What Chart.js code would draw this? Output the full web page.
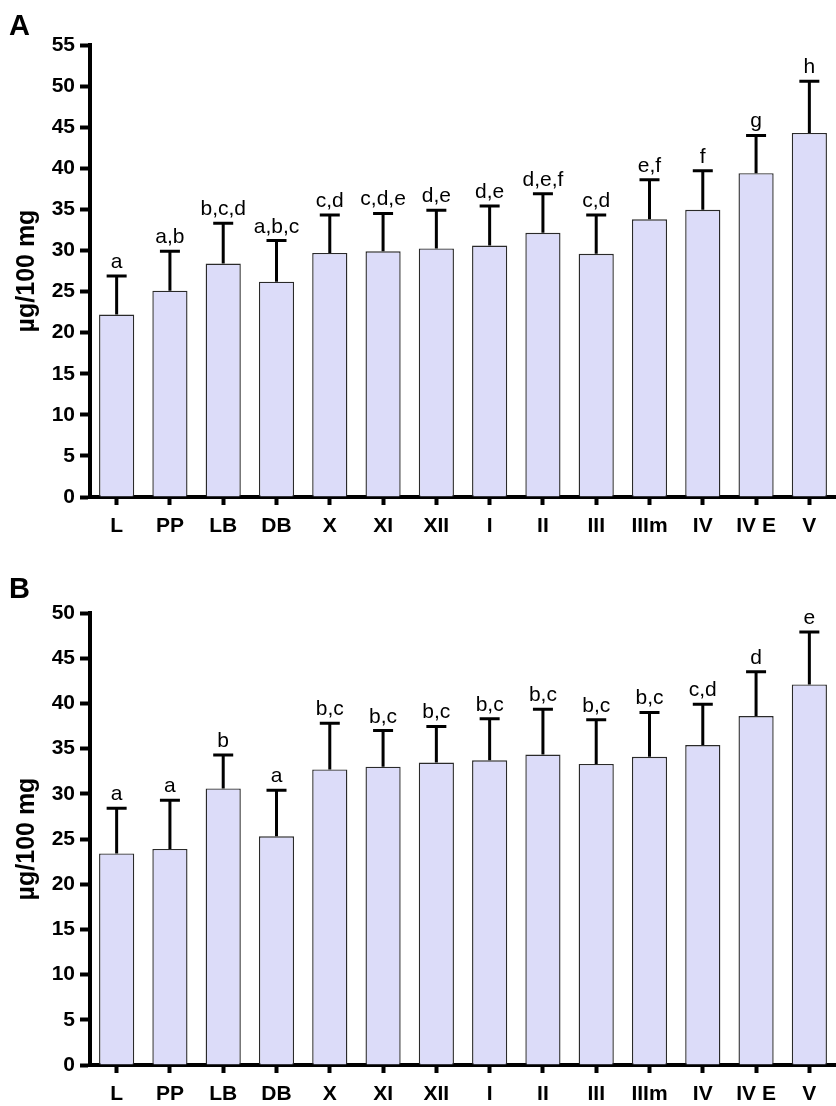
<!DOCTYPE html>
<html>
<head>
<meta charset="utf-8">
<script src="https://cdn.jsdelivr.net/npm/chart.js@4.4.1/dist/chart.umd.min.js"></script>
<style>
  html, body { margin: 0; padding: 0; background: #fff; }
  canvas { display: block; }
</style>
</head>
<body>
<canvas id="chartA" width="836" height="555"></canvas>
<canvas id="chartB" width="836" height="551"></canvas>
<script>
// --- Data ---
const stages = ['L', 'PP', 'LB', 'DB', 'X', 'XI', 'XII', 'I', 'II', 'III', 'IIIm', 'IV', 'IV E', 'V'];

// panel A
const meanA = [22.2, 25.1, 28.4, 26.2, 29.7, 29.9, 30.25, 30.6, 32.15, 29.6, 33.8, 34.95, 39.4, 44.3];
const sdA = [4.7, 4.8, 4.9, 5.0, 4.6, 4.6, 4.65, 4.8, 4.75, 4.7, 4.8, 4.75, 4.6, 6.3];
const lettersA = ['a', 'a,b', 'b,c,d', 'a,b,c', 'c,d', 'c,d,e', 'd,e', 'd,e', 'd,e,f', 'c,d', 'e,f', 'f', 'g', 'h'];

// panel B
const meanB = [23.4, 23.9, 30.6, 25.3, 32.7, 33.0, 33.45, 33.7, 34.35, 33.3, 34.1, 35.4, 38.6, 42.1];
const sdB = [5.0, 5.4, 3.7, 5.1, 5.1, 4.0, 4.0, 4.6, 5.0, 4.9, 4.9, 4.5, 4.9, 5.8];
const lettersB = ['a', 'a', 'b', 'a', 'b,c', 'b,c', 'b,c', 'b,c', 'b,c', 'b,c', 'b,c', 'c,d', 'd', 'e'];

const yTitle = 'µg/100 mg';
const FONT = "'Liberation Sans', Arial, sans-serif";

// error bars + significance letters + panel letter
const errorBarPlugin = {
  id: 'errorBars',
  afterDatasetsDraw(chart, args, opts) {
    const ctx = chart.ctx;
    const meta = chart.getDatasetMeta(0);
    const y = chart.scales.y;
    ctx.save();
    ctx.strokeStyle = '#000';
    ctx.fillStyle = '#000';
    ctx.lineWidth = 3;
    meta.data.forEach((bar, i) => {
      const top = y.getPixelForValue(opts.means[i] + opts.sd[i]);
      const x = bar.x;
      ctx.beginPath();
      ctx.moveTo(x, bar.y);
      ctx.lineTo(x, top);
      ctx.moveTo(x - 10, top);
      ctx.lineTo(x + 10, top);
      ctx.stroke();
      ctx.font = '21px ' + FONT;
      ctx.textAlign = 'center';
      ctx.textBaseline = 'alphabetic';
      ctx.fillText(opts.letters[i], x, top - 8);
    });
    ctx.font = 'bold 29px ' + FONT;
    ctx.textAlign = 'left';
    ctx.fillText(opts.panel, 9, opts.panelY);
    ctx.restore();
  }
};

function makeChart(id, means, sd, letters, yMax, panel, panelY, padTop, xHeight) {
  return new Chart(document.getElementById(id), {
    type: 'bar',
    data: {
      labels: stages,
      datasets: [{
        data: means,
        backgroundColor: '#dcdcf9',
        borderColor: '#2a2a2a',
        borderWidth: 1.4,
        barPercentage: 0.66,
        categoryPercentage: 1
      }]
    },
    options: {
      responsive: false,
      devicePixelRatio: 1,
      animation: false,
      layout: { padding: { top: padTop, right: 0, left: 0, bottom: 0 } },
      plugins: {
        legend: { display: false },
        tooltip: { enabled: false },
        errorBars: { means, sd, letters, panel, panelY }
      },
      scales: {
        x: {
          offset: true,
          afterFit: s => { s.height = xHeight; },
          grid: { offset: false, drawOnChartArea: false, tickLength: 8, tickWidth: 4, tickColor: '#000' },
          border: { color: '#000', width: 4 },
          ticks: { color: '#000', padding: 9, font: { family: FONT, size: 21, weight: 'bold' }, maxRotation: 0, autoSkip: false }
        },
        y: {
          min: 0,
          max: yMax,
          afterFit: s => { s.width = 90; },
          grid: { drawOnChartArea: false, tickLength: 10, tickWidth: 4, tickColor: '#000' },
          border: { color: '#000', width: 4 },
          ticks: { stepSize: 5, color: '#000', padding: 5, font: { family: FONT, size: 21, weight: 'bold' } },
          title: { display: true, text: yTitle, color: '#000', padding: { top: 12, bottom: 0 }, font: { family: FONT, size: 25, weight: 'bold' } }
        }
      }
    },
    plugins: [errorBarPlugin]
  });
}

makeChart('chartA', meanA, sdA, lettersA, 55, 'A', 35, 45, 58);
makeChart('chartB', meanB, sdB, lettersB, 50, 'B', 43, 58, 41);
</script>
</body>
</html>
